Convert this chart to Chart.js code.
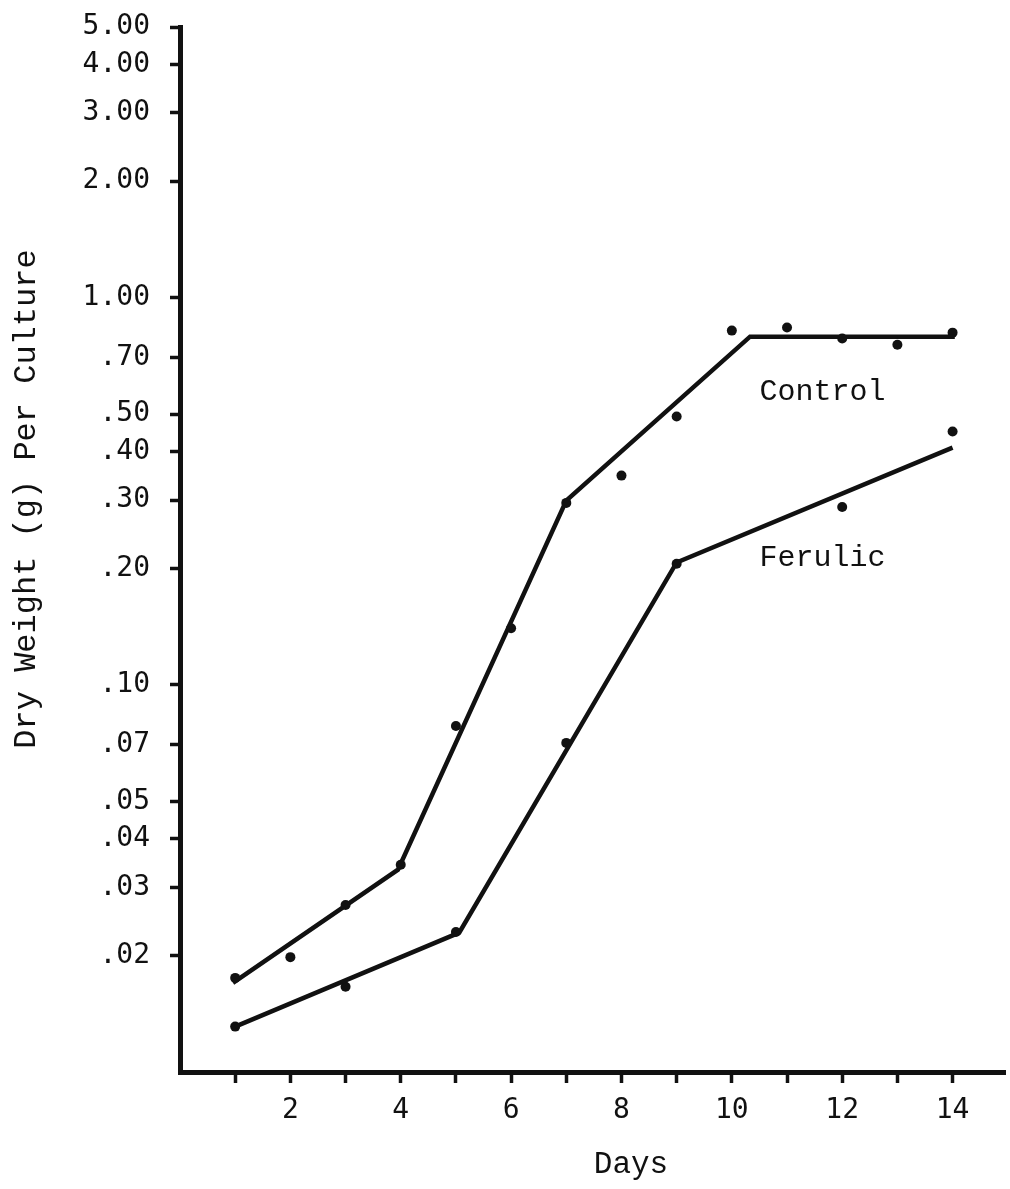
<!DOCTYPE html>
<html>
<head>
<meta charset="utf-8">
<title>Dry Weight Per Culture</title>
<script src="https://cdn.jsdelivr.net/npm/chart.js@4/dist/chart.umd.min.js"></script>
<style>
  html, body { margin: 0; padding: 0; background: #fff; }
  #wrap { width: 1010px; height: 1189px; }
</style>
</head>
<body>
<div id="wrap">
  <canvas id="growth" width="1010" height="1189"></canvas>
</div>
<script>
// observed dry weights (g per culture)
const controlDays = [1, 2, 3, 4, 5, 6, 7, 8, 9, 10, 11, 12, 13, 14];
const controlWeight = [0.0175, 0.0198, 0.0270, 0.0343, 0.0783, 0.140, 0.295, 0.347, 0.493, 0.822, 0.837, 0.784, 0.756, 0.812];
const ferulicDays = [1, 3, 5, 7, 9, 12, 14];
const ferulicWeight = [0.0131, 0.0166, 0.0230, 0.0708, 0.2055, 0.288, 0.451];

// hand fitted growth lines
const controlFitDays = [0.96, 3.95, 7.0, 10.33, 14.04];
const controlFitWeight = [0.0170, 0.0333, 0.299, 0.793, 0.793];
const ferulicFitDays = [1.0, 5.06, 9.0, 14.0];
const ferulicFitWeight = [0.0131, 0.0229, 0.207, 0.410];

// axes
const xTickDays = [1, 2, 3, 4, 5, 6, 7, 8, 9, 10, 11, 12, 13, 14];
const xLabelDays = [2, 4, 6, 8, 10, 12, 14];
const yTickValues = [5, 4, 3, 2, 1, 0.7, 0.5, 0.4, 0.3, 0.2, 0.1, 0.07, 0.05, 0.04, 0.03, 0.02];
const yTickLabels = ["5.00", "4.00", "3.00", "2.00", "1.00", ".70", ".50", ".40", ".30", ".20", ".10", ".07", ".05", ".04", ".03", ".02"];

const ink = "#111";
const typewriter = "'Liberation Mono', 'DejaVu Sans Mono', monospace";
const tickFont = "'DejaVu Sans Mono', 'Liberation Mono', monospace";

function pairs(xs, ys) {
  return xs.map((x, i) => ({ x: x, y: ys[i] }));
}

// series names next to the curves and the axis titles
const textPlugin = {
  id: "typedText",
  afterDraw(chart) {
    const ctx = chart.ctx;
    const xs = chart.scales.x;
    const ys = chart.scales.y;
    ctx.save();
    ctx.fillStyle = ink;
    ctx.font = "30px " + typewriter;
    ctx.textBaseline = "middle";
    ctx.textAlign = "left";
    ctx.fillText("Control", xs.getPixelForValue(10.5), ys.getPixelForValue(0.57));
    ctx.fillText("Ferulic", xs.getPixelForValue(10.5), ys.getPixelForValue(0.213));

    ctx.textAlign = "center";
    ctx.font = "31px " + typewriter;
    ctx.fillText("Days", 631, 1165);

    ctx.font = "32px " + typewriter;
    ctx.translate(27, 499);
    ctx.rotate(-Math.PI / 2);
    ctx.fillText("Dry Weight (g) Per Culture", 0, 0);
    ctx.restore();
  }
};

new Chart(document.getElementById("growth"), {
  type: "scatter",
  data: {
    datasets: [
      {
        label: "Control fit",
        data: pairs(controlFitDays, controlFitWeight),
        showLine: true,
        borderColor: ink,
        borderWidth: 4.5,
        pointRadius: 0,
        tension: 0
      },
      {
        label: "Ferulic fit",
        data: pairs(ferulicFitDays, ferulicFitWeight),
        showLine: true,
        borderColor: ink,
        borderWidth: 4.5,
        pointRadius: 0,
        tension: 0
      },
      {
        label: "Control",
        data: pairs(controlDays, controlWeight),
        pointRadius: 5,
        pointBackgroundColor: ink,
        pointBorderWidth: 0
      },
      {
        label: "Ferulic",
        data: pairs(ferulicDays, ferulicWeight),
        pointRadius: 5,
        pointBackgroundColor: ink,
        pointBorderWidth: 0
      }
    ]
  },
  options: {
    responsive: false,
    animation: false,
    layout: { padding: { top: 27, right: 2, left: 0, bottom: 0 } },
    plugins: {
      legend: { display: false },
      tooltip: { enabled: false }
    },
    scales: {
      x: {
        type: "linear",
        min: 0,
        max: 14.95,
        afterBuildTicks: (scale) => {
          scale.ticks = xTickDays.map((d) => ({ value: d }));
        },
        afterFit: (scale) => {
          scale.height = 117;
          scale.paddingLeft = 0;
          scale.paddingRight = 0;
        },
        ticks: {
          autoSkip: false,
          maxRotation: 0,
          padding: 11,
          color: ink,
          font: { family: tickFont, size: 28 },
          callback: (value) => (xLabelDays.includes(value) ? String(value) : "")
        },
        grid: {
          drawOnChartArea: false,
          drawTicks: true,
          tickLength: 11,
          tickWidth: 3.5,
          tickColor: ink
        },
        border: { display: true, color: ink, width: 5 }
      },
      y: {
        type: "logarithmic",
        min: 0.01,
        max: 5,
        afterBuildTicks: (scale) => {
          scale.ticks = yTickValues.map((v) => ({ value: v }));
        },
        afterFit: (scale) => {
          // keep the top label from pushing the plot down
          scale.width = 180;
          scale.paddingTop = 0;
          scale.paddingBottom = 0;
        },
        ticks: {
          autoSkip: false,
          padding: 20,
          color: ink,
          font: { family: tickFont, size: 28 },
          callback: (value) => yTickLabels[yTickValues.indexOf(value)]
        },
        grid: {
          drawOnChartArea: false,
          drawTicks: true,
          tickLength: 10,
          tickWidth: 3.5,
          tickColor: ink
        },
        border: { display: true, color: ink, width: 5 }
      }
    }
  },
  plugins: [textPlugin]
});
</script>
</body>
</html>
